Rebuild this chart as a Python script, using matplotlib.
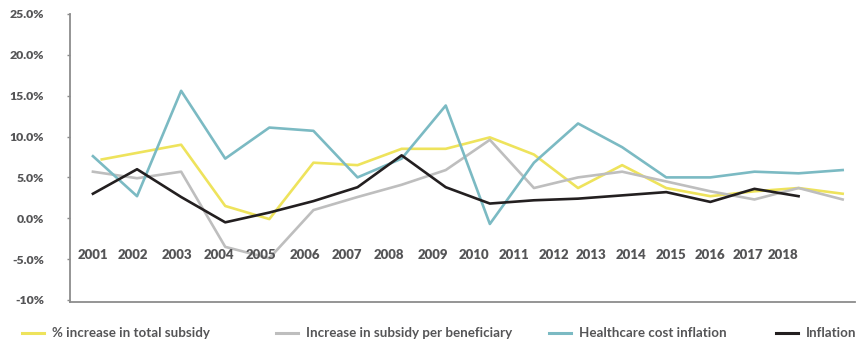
import matplotlib.pyplot as plt
from matplotlib.lines import Line2D

# Series values (% change), one point per period slot
healthcare_x = list(range(18))
healthcare = [7.6, 2.7, 15.6, 7.3, 11.1, 10.7, 5.0, 7.3, 13.8, -0.7,
              6.8, 11.6, 8.7, 5.0, 5.0, 5.7, 5.5, 5.9]

subsidy_x = [0.2] + list(range(2, 18))
subsidy = [7.2, 9.0, 1.5, -0.1, 6.8, 6.5, 8.5, 8.5, 9.9, 7.8,
           3.7, 6.5, 3.7, 2.7, 3.3, 3.7, 3.0]

per_benef_x = list(range(18))
per_benef = [5.7, 4.9, 5.7, -3.5, -4.9, 1.0, 2.6, 4.1, 5.9, 9.6,
             3.7, 5.0, 5.7, 4.5, 3.3, 2.3, 3.7, 2.3]

inflation_x = list(range(17))
inflation = [3.0, 6.0, 2.6, -0.5, 0.7, 2.1, 3.8, 7.7, 3.8, 1.8,
             2.2, 2.4, 2.8, 3.2, 2.0, 3.6, 2.7]

years = [str(y) for y in range(2001, 2019)]
year_pos = [0.0, 0.9, 1.9, 2.85, 3.8, 4.8, 5.75, 6.7, 7.7, 8.65,
            9.55, 10.45, 11.3, 12.2, 13.1, 14.0, 14.85, 15.65]

yticks = [-10, -5, 0, 5, 10, 15, 20, 25]
ytick_labels = ["-10%", "-5.0%", "0.0%", "5.0%", "10.0%", "15.0%", "20.0%", "25.0%"]

YELLOW = "#EEE35C"
GREY = "#BEBEBE"
TEAL = "#7BBAC3"
BLACK = "#231F20"
TXT = "#555557"

plt.rcParams["font.family"] = ["Lato", "DejaVu Sans"]

fig = plt.figure(figsize=(8.61, 3.42), dpi=100)
ax = fig.add_axes([70 / 861, 40 / 342, 785 / 861, 288 / 342])

lw = 1.9
ax.plot(subsidy_x, subsidy, color=YELLOW, lw=lw, label="% increase in total subsidy", zorder=3)
ax.plot(per_benef_x, per_benef, color=GREY, lw=lw, label="Increase in subsidy per beneficiary", zorder=3)
ax.plot(healthcare_x, healthcare, color=TEAL, lw=lw, label="Healthcare cost inflation", zorder=3)
ax.plot(inflation_x, inflation, color=BLACK, lw=lw, label="Inflation", zorder=3)

ax.set_xlim(-0.52, 17.28)
ax.set_ylim(-10.25, 25)
ax.set_yticks(yticks)
ax.set_yticklabels(ytick_labels)
ax.set_xticks([])
ax.tick_params(axis="y", length=2.5, width=1, color="#8C8C8C", pad=16,
               labelsize=8.8, labelcolor=TXT)
for lab in ax.get_yticklabels():
    lab.set_fontweight("heavy")

for s in ["top", "right"]:
    ax.spines[s].set_visible(False)
for s in ["left", "bottom"]:
    ax.spines[s].set_color("#8C8C8C")
    ax.spines[s].set_linewidth(1.3)

# Year labels sit inside the plot area, just below zero
for yr, xp in zip(years, year_pos):
    ax.text(xp, -4.5, yr, ha="center", va="center", fontsize=9.5,
            fontweight="heavy", color=TXT)

# Legend along the bottom, placed entry by entry
handles, labels = ax.get_legend_handles_labels()
entry_x = [22, 276, 549, 776]
for h, lab, x0 in zip(handles, labels, entry_x):
    y = 1 - 333 / 342
    fig.add_artist(Line2D([x0 / 861, (x0 + 22) / 861], [y, y],
                          color=h.get_color(), lw=2.2))
    fig.text((x0 + 30) / 861, y, lab, ha="left", va="center",
             fontsize=9.6, fontweight="bold", color=TXT)

fig.savefig("out.png", dpi=100)
